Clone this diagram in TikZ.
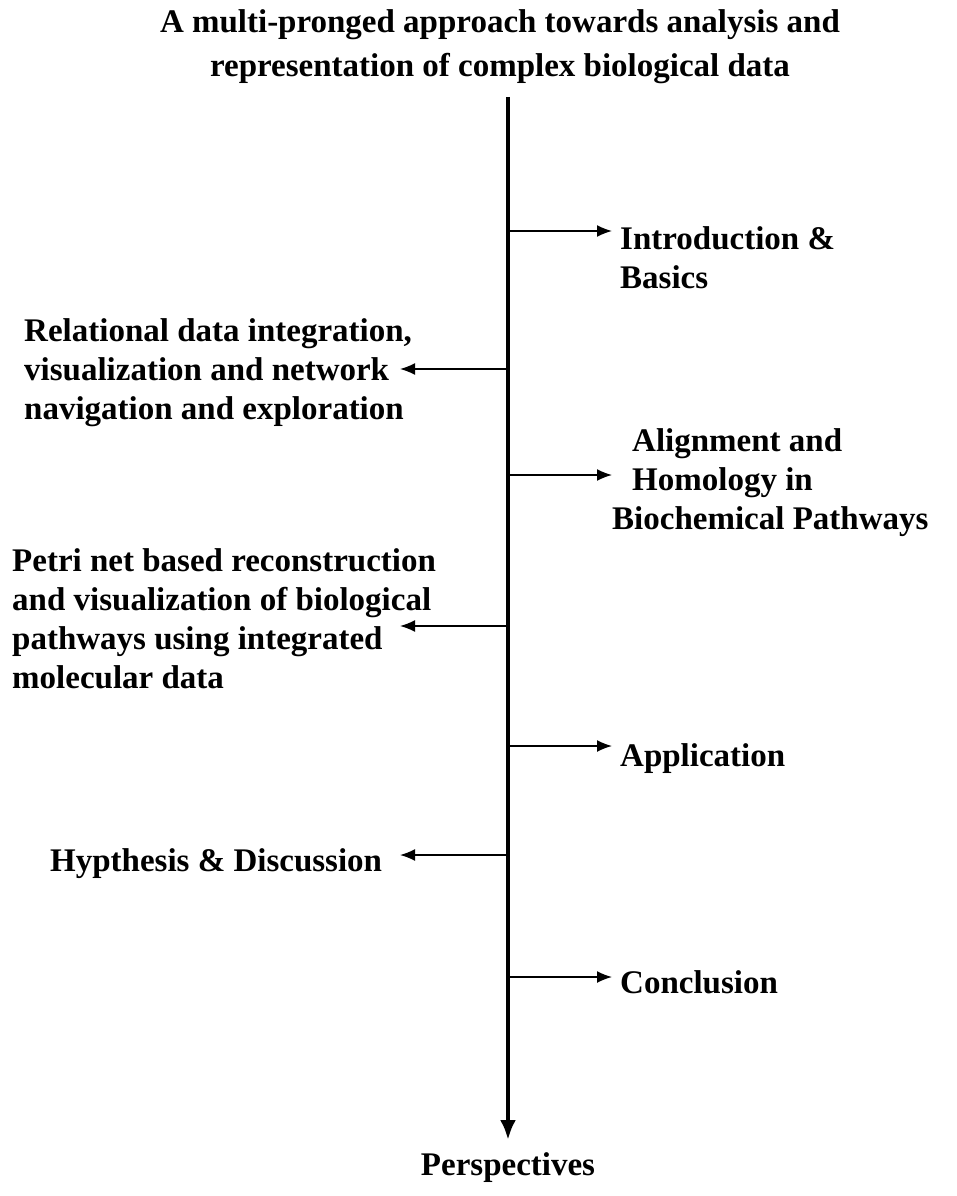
\documentclass[tikz,border=0pt]{standalone}
\usepackage{fontspec}
\setmainfont{Liberation Serif}
\usetikzlibrary{arrows.meta}

\begin{document}
\begin{tikzpicture}[x=1pt,y=-1pt,
  lbl/.style={font=\fontsize{33}{39}\selectfont\bfseries, inner sep=0pt, align=left},
  axis/.style={line width=4pt, -{Latex[length=20pt,width=16pt]}},
  branch/.style={line width=1.6pt, -{Latex[length=15pt,width=12pt]}}]

\useasboundingbox (0,0) rectangle (957,1196);

\node[lbl, align=center, anchor=north, font=\fontsize{33}{44}\selectfont\bfseries] (title) at (500,9) {A multi-pronged approach towards analysis and\\representation of complex biological data};

\coordinate (top) at (508,97);
\node[lbl, anchor=north] (persp) at (508,1152) {Perspectives};
\coordinate (bottom) at (508,1140);
\draw[axis] (top) -- (bottom);

% right side
\coordinate (a1) at (508,231);
\coordinate (t1) at (612,231);
\node[lbl, anchor=north west] (intro) at (620,226) {Introduction \&\\Basics};

\coordinate (a3) at (508,475);
\coordinate (t3) at (612,475);
\node[lbl, anchor=north west] (align) at (612,428) {\hspace*{20pt}Alignment and\\\hspace*{20pt}Homology in\\Biochemical Pathways};

\coordinate (a5) at (508,746);
\coordinate (t5) at (612,746);
\node[lbl, anchor=north west] (appl) at (620,743) {Application};

\coordinate (a7) at (508,977);
\coordinate (t7) at (612,977);
\node[lbl, anchor=north west] (concl) at (620,970) {Conclusion};

% left side
\coordinate (a2) at (508,369);
\coordinate (t2) at (400,369);
\node[lbl, anchor=north west] (relat) at (24,318) {Relational data integration,\\visualization and network\\navigation and exploration};

\coordinate (a4) at (508,626);
\coordinate (t4) at (400,626);
\node[lbl, anchor=north west] (petri) at (12,548) {Petri net based reconstruction\\and visualization of biological\\pathways using integrated\\molecular data};

\coordinate (a6) at (508,855);
\coordinate (t6) at (400,855);
\node[lbl, anchor=north west] (hyp) at (50,848) {Hypthesis \& Discussion};

\foreach \i in {1,...,7}
  \draw[branch] (a\i) -- (t\i);

\end{tikzpicture}
\end{document}
